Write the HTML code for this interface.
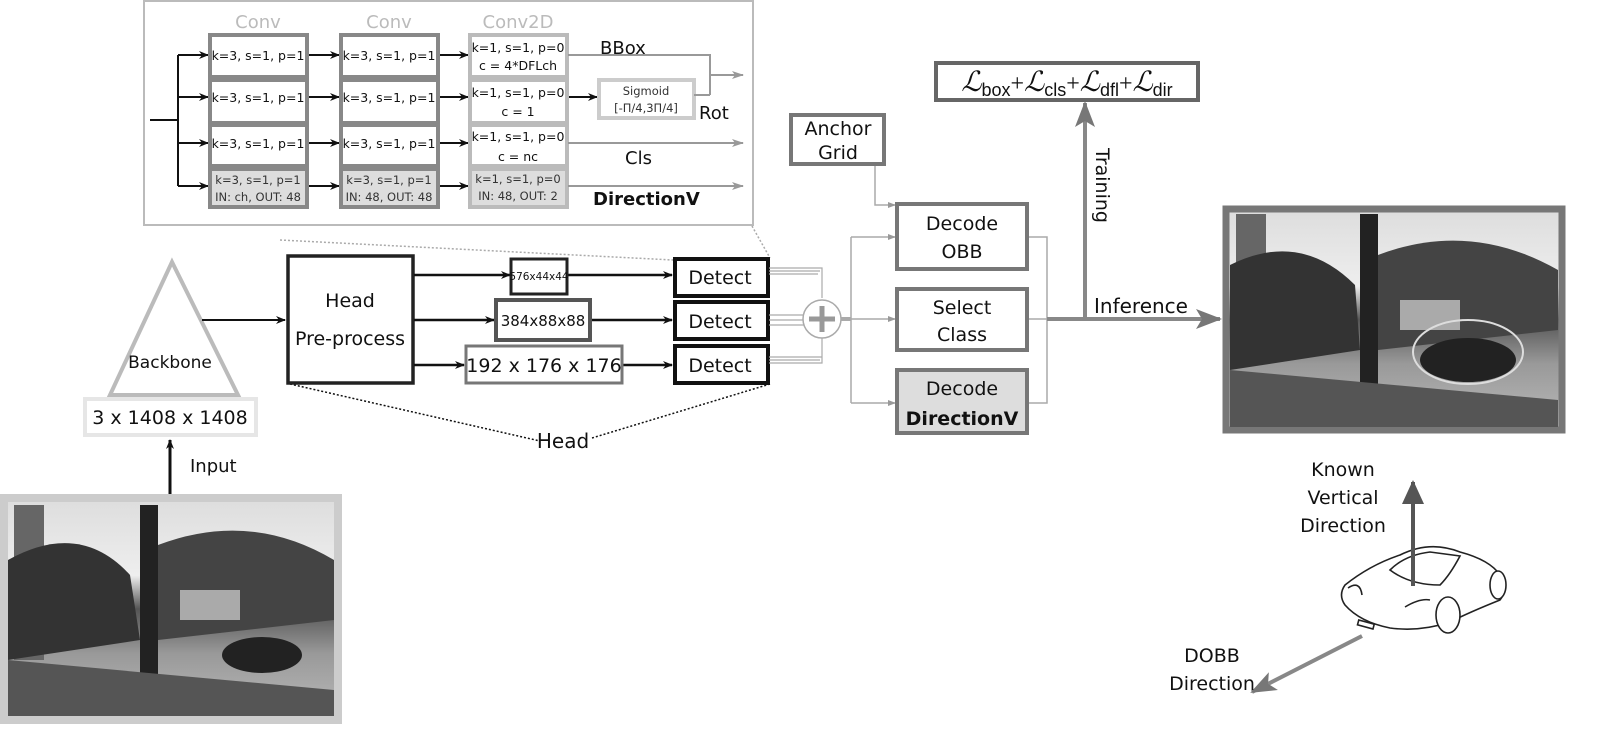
<!DOCTYPE html>
<html><head><meta charset="utf-8"><style>
html,body{margin:0;padding:0;background:#fff;}
svg{display:block;font-family:"DejaVu Sans","Liberation Sans",sans-serif;}
</style></head><body>
<svg width="1600" height="740" viewBox="0 0 1600 740" xmlns="http://www.w3.org/2000/svg">
<defs>
<marker id="ab" markerWidth="10" markerHeight="8" refX="9" refY="4" orient="auto" markerUnits="userSpaceOnUse"><path d="M0,0 L10,4 L0,8 L3,4z" fill="#111"/></marker>
<marker id="ag" markerWidth="12" markerHeight="8" refX="11" refY="4" orient="auto" markerUnits="userSpaceOnUse"><path d="M0,0 L12,4 L0,8 L3,4z" fill="#999"/></marker>
<marker id="as" markerWidth="8" markerHeight="6" refX="7" refY="3" orient="auto" markerUnits="userSpaceOnUse"><path d="M0,0 L8,3 L0,6z" fill="#999"/></marker>
<marker id="abig" markerWidth="26" markerHeight="20" refX="24" refY="10" orient="auto" markerUnits="userSpaceOnUse"><path d="M0,0 L26,10 L0,20 L6,10z" fill="#777"/></marker>
<marker id="adk" markerWidth="24" markerHeight="22" refX="22" refY="11" orient="auto" markerUnits="userSpaceOnUse"><path d="M0,0 L24,11 L0,22z" fill="#555"/></marker>
<linearGradient id="sky" x1="0" y1="0" x2="0" y2="1"><stop offset="0" stop-color="#ddd"/><stop offset="0.35" stop-color="#eee"/><stop offset="0.5" stop-color="#555"/><stop offset="0.7" stop-color="#999"/><stop offset="1" stop-color="#bbb"/></linearGradient>
</defs>

<rect x="144" y="1" width="609" height="224" fill="#fff" stroke="#bbb" stroke-width="2"/>
<g font-size="18" fill="#bbb" text-anchor="middle">
<text x="258" y="28">Conv</text><text x="389" y="28">Conv</text><text x="518" y="28">Conv2D</text>
</g>
<g stroke="#111" stroke-width="2" fill="none">
<line x1="150" y1="120" x2="178" y2="120"/>
<line x1="178" y1="55" x2="178" y2="186"/>
<line x1="178" y1="55" x2="208" y2="55" marker-end="url(#ab)"/>
<line x1="178" y1="97" x2="208" y2="97" marker-end="url(#ab)"/>
<line x1="178" y1="143" x2="208" y2="143" marker-end="url(#ab)"/>
<line x1="178" y1="186" x2="208" y2="186" marker-end="url(#ab)"/>
<line x1="308" y1="55" x2="339" y2="55" marker-end="url(#ab)"/>
<line x1="308" y1="97" x2="339" y2="97" marker-end="url(#ab)"/>
<line x1="308" y1="143" x2="339" y2="143" marker-end="url(#ab)"/>
<line x1="308" y1="186" x2="339" y2="186" marker-end="url(#ab)"/>
<line x1="439" y1="55" x2="468" y2="55" marker-end="url(#ab)"/>
<line x1="439" y1="97" x2="468" y2="97" marker-end="url(#ab)"/>
<line x1="439" y1="143" x2="468" y2="143" marker-end="url(#ab)"/>
<line x1="439" y1="186" x2="468" y2="186" marker-end="url(#ab)"/>
<line x1="568" y1="97" x2="597" y2="97" marker-end="url(#ab)"/>
</g>
<g stroke="#888" stroke-width="4">
<rect x="210" y="35" width="97" height="42" fill="#fff"/>
<rect x="210" y="80" width="97" height="43" fill="#fff"/>
<rect x="210" y="125" width="97" height="41" fill="#fff"/>
<rect x="210" y="169" width="97" height="38" fill="#ddd"/>
<rect x="341" y="35" width="97" height="42" fill="#fff"/>
<rect x="341" y="80" width="97" height="43" fill="#fff"/>
<rect x="341" y="125" width="97" height="41" fill="#fff"/>
<rect x="341" y="169" width="97" height="38" fill="#ddd"/>
</g>
<g stroke="#bbb" stroke-width="4">
<rect x="470" y="35" width="97" height="42" fill="#fff"/>
<rect x="470" y="80" width="97" height="43" fill="#fff"/>
<rect x="470" y="125" width="97" height="41" fill="#fff"/>
<rect x="470" y="169" width="97" height="38" fill="#ddd"/>
<rect x="599" y="80" width="95" height="38" fill="#fff" stroke="#ccc"/>
</g>
<g font-size="12.5" fill="#111" text-anchor="middle">
<text x="258" y="60">k=3, s=1, p=1</text><text x="258" y="102">k=3, s=1, p=1</text><text x="258" y="148">k=3, s=1, p=1</text>
<text x="389" y="60">k=3, s=1, p=1</text><text x="389" y="102">k=3, s=1, p=1</text><text x="389" y="148">k=3, s=1, p=1</text>
<text x="518" y="52">k=1, s=1, p=0</text><text x="518" y="70">c = 4*DFLch</text>
<text x="518" y="97">k=1, s=1, p=0</text><text x="518" y="116">c = 1</text>
<text x="518" y="141">k=1, s=1, p=0</text><text x="518" y="161">c = nc</text>
<g font-size="11.5" fill="#333">
<text x="258" y="184">k=3, s=1, p=1</text><text x="258" y="201">IN: ch, OUT: 48</text>
<text x="389" y="184">k=3, s=1, p=1</text><text x="389" y="201">IN: 48, OUT: 48</text>
<text x="518" y="183">k=1, s=1, p=0</text><text x="518" y="200">IN: 48, OUT: 2</text>
<text x="646" y="95">Sigmoid</text><text x="646" y="112">[-Π/4,3Π/4]</text>
</g>
</g>
<g stroke="#999" stroke-width="2" fill="none">
<polyline points="568,55 710,55 710,75"/>
<line x1="694" y1="95" x2="710" y2="95"/>
<line x1="710" y1="75" x2="710" y2="95"/>
<line x1="710" y1="75" x2="743" y2="75" marker-end="url(#ag)"/>
<line x1="568" y1="143" x2="743" y2="143" marker-end="url(#ag)"/>
<line x1="568" y1="186" x2="743" y2="186" marker-end="url(#ag)"/>
</g>
<g font-size="18" fill="#111">
<text x="600" y="54">BBox</text>
<text x="699" y="119">Rot</text>
<text x="625" y="164">Cls</text>
<text x="593" y="205" font-weight="bold">DirectionV</text>
</g>

<g stroke="#aaa" stroke-width="1.5" stroke-dasharray="2,2" fill="none">
<line x1="280" y1="240" x2="673" y2="260"/>
<line x1="752" y1="226" x2="770" y2="258"/>
</g>
<g stroke="#111" stroke-width="1.5" stroke-dasharray="2,2" fill="none">
<line x1="290" y1="384" x2="540" y2="441"/>
<line x1="770" y1="384" x2="592" y2="438"/>
</g>
<text x="563" y="448" font-size="20" fill="#111" text-anchor="middle">Head</text>

<polygon points="172,262 110,395 238,395" fill="#fff" stroke="#bbb" stroke-width="4"/>
<text x="170" y="368" font-size="17" fill="#111" text-anchor="middle">Backbone</text>
<rect x="85" y="399" width="171" height="36" fill="#fff" stroke="#e6e6e6" stroke-width="4"/>
<text x="170" y="424" font-size="19" fill="#111" text-anchor="middle">3 x 1408 x 1408</text>
<line x1="170" y1="494" x2="170" y2="440" stroke="#111" stroke-width="3" marker-end="url(#ab)"/>
<text x="190" y="472" font-size="18" fill="#111">Input</text>

<rect x="4" y="498" width="334" height="222" fill="url(#sky)" stroke="#ccc" stroke-width="8"/>
<g fill="#222">
<rect x="140" y="505" width="18" height="210"/>
<rect x="14" y="505" width="30" height="155" fill="#666"/>
<path d="M8,560 Q80,520 130,575 L140,640 L8,660z" fill="#333"/>
<path d="M158,545 Q250,510 334,560 L334,620 L158,640z" fill="#444"/>
<ellipse cx="262" cy="655" rx="40" ry="18"/>
<path d="M8,660 L334,690 L334,716 L8,716z" fill="#555"/>
<rect x="180" y="590" width="60" height="30" fill="#aaa"/>
</g>

<rect x="288" y="256" width="125" height="127" fill="#fff" stroke="#222" stroke-width="3.5"/>
<text x="350" y="307" font-size="19" fill="#111" text-anchor="middle">Head</text>
<text x="350" y="345" font-size="19" fill="#111" text-anchor="middle">Pre-process</text>
<line x1="202" y1="320" x2="285" y2="320" stroke="#111" stroke-width="2" marker-end="url(#ab)"/>
<g stroke="#111" stroke-width="2.5">
<line x1="414" y1="275" x2="510" y2="275" marker-end="url(#ab)"/>
<line x1="414" y1="320" x2="494" y2="320" marker-end="url(#ab)"/>
<line x1="414" y1="365" x2="464" y2="365" marker-end="url(#ab)"/>
<line x1="568" y1="275" x2="672" y2="275" marker-end="url(#ab)"/>
<line x1="591" y1="320" x2="672" y2="320" marker-end="url(#ab)"/>
<line x1="622" y1="365" x2="672" y2="365" marker-end="url(#ab)"/>
</g>
<rect x="511" y="259" width="56" height="35" fill="#fff" stroke="#222" stroke-width="3"/>
<text x="539" y="280" font-size="10.5" fill="#111" text-anchor="middle">576x44x44</text>
<rect x="496" y="300" width="94" height="40" fill="#fff" stroke="#555" stroke-width="4"/>
<text x="543" y="326" font-size="15" fill="#111" text-anchor="middle">384x88x88</text>
<rect x="466" y="346" width="156" height="37" fill="#fff" stroke="#777" stroke-width="3"/>
<text x="544" y="372" font-size="19" fill="#111" text-anchor="middle">192 x 176 x 176</text>

<g stroke="#111" stroke-width="4" fill="#fff">
<rect x="675" y="259" width="93" height="37"/>
<rect x="675" y="302" width="93" height="37"/>
<rect x="675" y="346" width="93" height="37"/>
</g>
<g font-size="19" fill="#111" text-anchor="middle">
<text x="720" y="284">Detect</text><text x="720" y="328">Detect</text><text x="720" y="372">Detect</text>
</g>
<g stroke="#aaa" stroke-width="1.2" fill="none">
<polyline points="769,268 822,268 822,298"/><polyline points="769,271 820,271"/><polyline points="769,274 818,274"/>
<polyline points="769,315 805,315 805,325 769,325"/><line x1="769" y1="320" x2="805" y2="320"/>
<polyline points="769,357 822,357"/><polyline points="769,360 820,360"/><polyline points="769,363 822,363 822,338"/>
</g>
<circle cx="822" cy="319" r="19" fill="#fff" stroke="#aaa" stroke-width="1.5"/>
<g stroke="#999" stroke-width="5"><line x1="809" y1="319" x2="835" y2="319"/><line x1="822" y1="306" x2="822" y2="332"/></g>

<line x1="841" y1="319" x2="851" y2="319" stroke="#aaa" stroke-width="4"/>
<g stroke="#aaa" stroke-width="1.5" fill="none">
<line x1="851" y1="237" x2="851" y2="403"/>
<line x1="851" y1="237" x2="895" y2="237" marker-end="url(#as)"/>
<line x1="851" y1="319" x2="895" y2="319" marker-end="url(#as)"/>
<line x1="851" y1="403" x2="895" y2="403" marker-end="url(#as)"/>
<polyline points="875,165 875,205 895,205" marker-end="url(#as)"/>
<polyline points="1028,237 1047,237 1047,403 1028,403"/>
<line x1="1028" y1="319" x2="1047" y2="319"/>
</g>
<g stroke="#777" stroke-width="4">
<rect x="791" y="115" width="93" height="49" fill="#fff"/>
<rect x="897" y="204" width="130" height="65" fill="#fff"/>
<rect x="897" y="289" width="130" height="61" fill="#fff"/>
<rect x="897" y="370" width="130" height="63" fill="#ddd"/>
<rect x="936" y="63" width="262" height="37" fill="#fff" stroke="#666"/>
</g>
<g font-size="19" fill="#111" text-anchor="middle">
<text x="838" y="135">Anchor</text><text x="838" y="159">Grid</text>
<text x="962" y="230">Decode</text><text x="962" y="258">OBB</text>
<text x="962" y="314">Select</text><text x="962" y="341">Class</text>
<text x="962" y="395">Decode</text><text x="962" y="425" font-weight="bold">DirectionV</text>
</g>
<text x="1067" y="91" font-size="24" fill="#111" text-anchor="middle" font-family="'Liberation Serif',serif"><tspan font-style="italic" font-size="28">ℒ</tspan><tspan font-family="'Liberation Sans',sans-serif" font-size="18" dy="5">box</tspan><tspan dy="-5">+</tspan><tspan font-style="italic" font-size="28">ℒ</tspan><tspan font-family="'Liberation Sans',sans-serif" font-size="18" dy="5">cls</tspan><tspan dy="-5">+</tspan><tspan font-style="italic" font-size="28">ℒ</tspan><tspan font-family="'Liberation Sans',sans-serif" font-size="18" dy="5">dfl</tspan><tspan dy="-5">+</tspan><tspan font-style="italic" font-size="28">ℒ</tspan><tspan font-family="'Liberation Sans',sans-serif" font-size="18" dy="5">dir</tspan></text>

<line x1="1047" y1="319" x2="1220" y2="319" stroke="#888" stroke-width="4" marker-end="url(#abig)"/>
<line x1="1085" y1="319" x2="1085" y2="103" stroke="#888" stroke-width="4" marker-end="url(#abig)"/>
<text transform="translate(1096,148) rotate(90)" font-size="19" fill="#111">Training</text>
<text x="1094" y="313" font-size="20" fill="#111">Inference</text>

<rect x="1226" y="209" width="336" height="221" fill="url(#sky)" stroke="#777" stroke-width="7"/>
<g fill="#222">
<rect x="1360" y="214" width="18" height="212"/>
<rect x="1236" y="214" width="30" height="150" fill="#666"/>
<path d="M1230,265 Q1300,230 1355,285 L1360,350 L1230,370z" fill="#333"/>
<path d="M1378,255 Q1470,220 1558,270 L1558,330 L1378,350z" fill="#444"/>
<ellipse cx="1468" cy="360" rx="48" ry="22"/>
<path d="M1230,370 L1558,400 L1558,427 L1230,427z" fill="#555"/>
<rect x="1400" y="300" width="60" height="30" fill="#aaa"/>
</g>
<ellipse cx="1468" cy="352" rx="55" ry="32" fill="none" stroke="#ddd" stroke-width="2"/>

<g fill="#fff" stroke="#222" stroke-width="1.6">
<path d="M1345,605 Q1338,595 1345,585 Q1370,565 1400,555 Q1430,540 1460,552 Q1490,560 1500,575 Q1508,590 1500,600 Q1470,612 1450,622 Q1420,632 1390,628 Q1360,622 1345,605z"/>
<path d="M1390,570 Q1405,555 1430,552 L1460,556 Q1450,575 1440,585 Q1410,585 1390,570z"/>
<ellipse cx="1448" cy="615" rx="12" ry="18"/>
<ellipse cx="1498" cy="585" rx="8" ry="14"/>
<rect x="1358" y="622" width="16" height="5" transform="rotate(15 1366 624)"/>
<path d="M1348,588 Q1360,580 1362,595" fill="none"/>
<path d="M1405,607 Q1420,598 1430,600" fill="none"/>
</g>
<line x1="1413" y1="586" x2="1413" y2="482" stroke="#555" stroke-width="4" marker-end="url(#adk)"/>
<line x1="1362" y1="636" x2="1252" y2="692" stroke="#888" stroke-width="4" marker-end="url(#abig)"/>
<g font-size="19" fill="#111" text-anchor="middle">
<text x="1343" y="476">Known</text><text x="1343" y="504">Vertical</text><text x="1343" y="532">Direction</text>
<text x="1212" y="662">DOBB</text><text x="1212" y="690">Direction</text>
</g>
</svg>
</body></html>
